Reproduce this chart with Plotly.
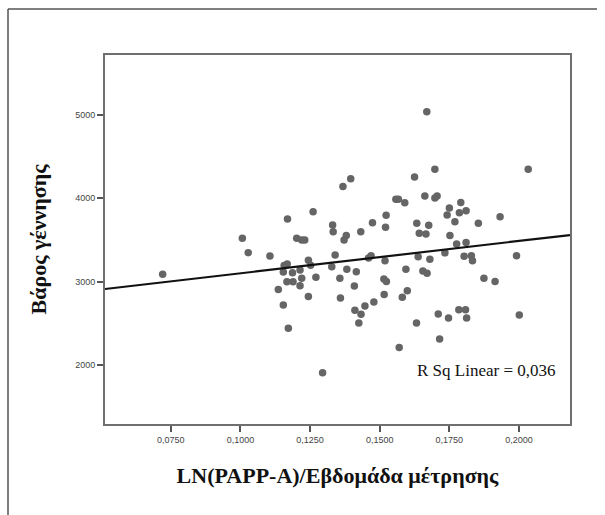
import plotly.graph_objects as go

# ---- data ----
ln_pappa_per_week = [
    0.0721, 0.1007, 0.1028, 0.1106, 0.1136, 0.1154, 0.1172, 0.1169, 0.1157, 0.1168,
    0.1154, 0.1187, 0.1214, 0.1167, 0.1189, 0.1220, 0.1214, 0.1202, 0.1220, 0.1231,
    0.1244, 0.1252, 0.1244, 0.1261, 0.1271, 0.1295, 0.1331, 0.1333, 0.1340, 0.1328,
    0.1357, 0.1359, 0.1368, 0.1396, 0.1380, 0.1372, 0.1382, 0.1416, 0.1409, 0.1411,
    0.1433, 0.1425, 0.1447, 0.1479, 0.1432, 0.1474, 0.1460, 0.1469, 0.1519, 0.1523,
    0.1521, 0.1515, 0.1524, 0.1516, 0.1581, 0.1599, 0.1594, 0.1570, 0.1558, 0.1567,
    0.1590, 0.1625, 0.1633, 0.1642, 0.1666, 0.1676, 0.1662, 0.1669, 0.1638, 0.1680,
    0.1655, 0.1670, 0.1632, 0.1698, 0.1698, 0.1706, 0.1734, 0.1710, 0.1747, 0.1715,
    0.1750, 0.1742, 0.1752, 0.1770, 0.1786, 0.1810, 0.1791, 0.1776, 0.1810, 0.1803,
    0.1829, 0.1833, 0.1784, 0.1808, 0.1812, 0.1854, 0.1874, 0.1914, 0.1932, 0.1991,
    0.2001, 0.2033,
]
birth_weight = [
    3090, 3520, 3348, 3308, 2906, 2720, 2440, 3752, 3194, 3212,
    3116, 3108, 3140, 3000, 3000, 3040, 2952, 3520, 3500, 3500,
    3256, 3196, 2822, 3840, 3052, 1908, 3680, 3600, 3320, 3180,
    3040, 2804, 4142, 4236, 3554, 3500, 3148, 3120, 2948, 2656,
    2610, 2504, 2708, 2756, 3600, 3708, 3284, 3312, 3252, 3798,
    3652, 3032, 3002, 2846, 2812, 2892, 3148, 2210, 3990, 3988,
    3948, 4256, 3700, 3580, 3572, 3678, 4028, 5040, 3300, 3270,
    3128, 3100, 2504, 4348, 4004, 4028, 3346, 2612, 2564, 2312,
    3884, 3800, 3554, 3720, 3828, 3852, 3950, 3452, 3470, 3304,
    3310, 3252, 2664, 2664, 2564, 3700, 3040, 3002, 3780, 3312,
    2600, 4348,
]
fit_intercept = 2712.0
fit_slope = 3883.0
r_sq_text = "R Sq Linear = 0,036"

x_ticks = [0.075, 0.100, 0.125, 0.150, 0.175, 0.200]
y_ticks = [2000, 3000, 4000, 5000]
x_title = "LN(PAPP-A)/Εβδομάδα μέτρησης"
y_title = "Βάρος γέννησης"

X_RANGE = [0.0514, 0.2183]
Y_RANGE = [1292, 5720]

fig = go.Figure()
fig.add_trace(go.Scatter(
    x=ln_pappa_per_week, y=birth_weight, mode="markers",
    marker=dict(size=7.5, color="#656565", line=dict(width=0)),
    showlegend=False, hoverinfo="x+y",
))
fit_x = list(X_RANGE)
fit_y = [fit_intercept + fit_slope * v for v in fit_x]
fig.add_trace(go.Scatter(
    x=fit_x, y=fit_y, mode="lines",
    line=dict(color="#111111", width=2.2),
    showlegend=False, hoverinfo="skip",
))

axis_common = dict(
    showgrid=False, zeroline=False, showline=True, mirror=True,
    linecolor="#6f6f6f", linewidth=2,
    ticks="outside", ticklen=6, tickwidth=1.5, tickcolor="#555555",
    tickfont=dict(family="Liberation Sans, Arial, sans-serif", size=9, color="#444444"),
)

fig.update_layout(
    width=605, height=515,
    margin=dict(l=105, r=35, t=55, b=91),
    paper_bgcolor="white", plot_bgcolor="white",
    separators=",.",
    xaxis=dict(
        range=X_RANGE, tickvals=x_ticks, tickformat=".4f",
        title=dict(text=x_title, standoff=24,
                   font=dict(family="Liberation Serif, Times New Roman, serif", size=22, color="#111111")),
        **axis_common,
    ),
    yaxis=dict(
        range=Y_RANGE, tickvals=y_ticks, tickformat="d",
        title=dict(text=y_title, standoff=22,
                   font=dict(family="Liberation Serif, Times New Roman, serif", size=22, color="#111111")),
        **axis_common,
    ),
    annotations=[dict(
        text=r_sq_text, xref="paper", yref="paper",
        x=0.974, y=0.146, xanchor="right", yanchor="middle", showarrow=False,
        font=dict(family="Liberation Serif, Times New Roman, serif", size=17, color="#111111"),
    )],
    shapes=[
        dict(type="line", xref="paper", yref="paper",
             x0=-0.2086, x1=1.058, y0=1.1247, y1=1.1247,
             line=dict(color="#555555", width=1.5)),
        dict(type="line", xref="paper", yref="paper",
             x0=-0.2086, x1=-0.2086, y0=1.1247, y1=-0.3,
             line=dict(color="#555555", width=1.5)),
    ],
)
fig.update_xaxes(title_font_weight="bold")
fig.update_yaxes(title_font_weight="bold")

fig.write_html("out.html")
